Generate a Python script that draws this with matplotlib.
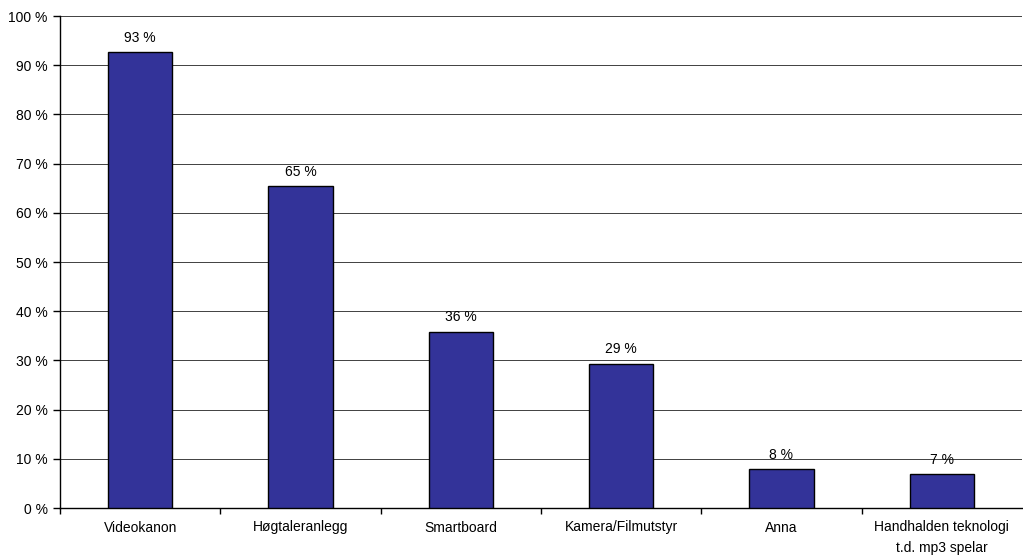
import matplotlib
matplotlib.use('Agg')
import matplotlib.pyplot as plt
import numpy as np

categories = ['Videokanon', 'Høgtaleranlegg', 'Smartboard', 'Kamera/Filmutstyr',
              'Anna', 'Handhalden teknologi\nt.d. mp3 spelar']
values = [92.7, 65.4, 35.8, 29.3, 7.9, 6.9]
labels = ['93 %', '65 %', '36 %', '29 %', '8 %', '7 %']
yticks = list(range(0, 101, 10))

plt.rcParams['font.family'] = ['Liberation Sans', 'DejaVu Sans']

fig = plt.figure(figsize=(10.23, 5.56), dpi=100)
W, H = 1023, 556
ax = fig.add_axes([60 / W, (H - 508) / H, 962 / W, 492 / H])

x = np.arange(len(categories))
ax.bar(x, values, width=0.4, color='#333399', edgecolor='black', linewidth=1, zorder=3)

for xi, v, lab in zip(x, values, labels):
    ax.text(xi, v + 1.5, lab, ha='center', va='bottom', fontsize=10)

ax.set_xlim(-0.5, len(categories) - 0.5)
ax.set_ylim(0, 100)
ax.set_yticks(yticks)
ax.set_yticklabels([f'{t} %' for t in yticks], fontsize=10)
ax.yaxis.grid(True, color='#404040', linewidth=0.7, zorder=0)

# category labels centred, tick marks between categories
ax.set_xticks(x)
ax.set_xticklabels(categories, fontsize=10, linespacing=1.55)
ax.tick_params(axis='x', length=0, pad=9)
ax.set_xticks(np.arange(-0.5, len(categories) - 1, 1), minor=True)
ax.tick_params(axis='x', which='minor', length=4, width=1)
ax.tick_params(axis='y', length=5, width=1, pad=4)

for s in ['top', 'right']:
    ax.spines[s].set_visible(False)
ax.spines['left'].set_linewidth(1)
ax.spines['bottom'].set_linewidth(1)

fig.savefig('out.png', dpi=100)
